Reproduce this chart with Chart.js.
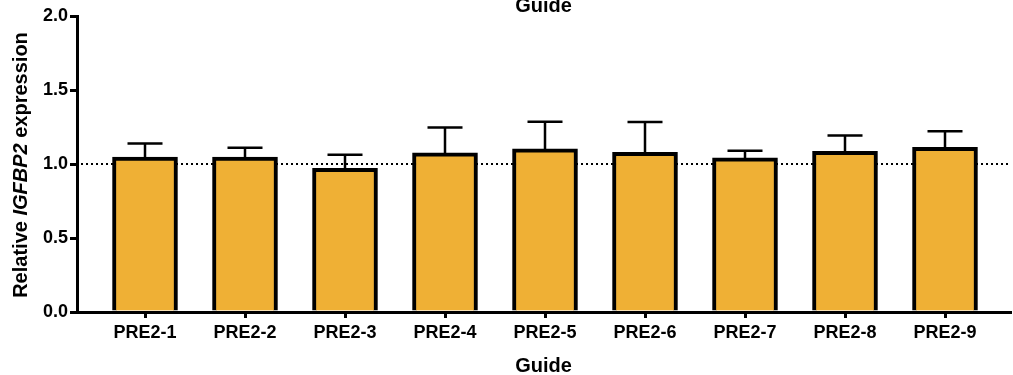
<!DOCTYPE html>
<html>
<head>
<meta charset="utf-8">
<script src="https://cdn.jsdelivr.net/npm/chart.js@4/dist/chart.umd.min.js"></script>
<style>
  html, body { margin: 0; padding: 0; background: #fff; }
  #wrap { width: 1013px; height: 375px; }
</style>
</head>
<body>
<div id="wrap"><canvas id="c" width="1013" height="375"></canvas></div>
<script>
// Guides and their relative IGFBP2 expression (mean and upper error)
const guides = ['PRE2-1', 'PRE2-2', 'PRE2-3', 'PRE2-4', 'PRE2-5', 'PRE2-6', 'PRE2-7', 'PRE2-8', 'PRE2-9'];
const expression = [1.047, 1.047, 0.970, 1.075, 1.102, 1.079, 1.041, 1.086, 1.113];
const errorUp = [0.091, 0.063, 0.093, 0.171, 0.183, 0.204, 0.049, 0.106, 0.108];
const yTicks = [0, 0.5, 1.0, 1.5, 2.0];
const referenceLevel = 1.0;

const font = "'Liberation Sans', Arial, Helvetica, sans-serif";

// dotted reference line and error bars, drawn under the bars
const underlay = {
  id: 'underlay',
  beforeDatasetsDraw(chart) {
    const { ctx, chartArea, scales } = chart;
    const y1 = scales.y.getPixelForValue(referenceLevel);
    ctx.save();
    ctx.strokeStyle = '#000';
    ctx.lineWidth = 2;
    ctx.setLineDash([2, 3]);
    ctx.beginPath();
    ctx.moveTo(chartArea.left + 4, y1);
    ctx.lineTo(chartArea.right, y1);
    ctx.stroke();
    ctx.setLineDash([]);
    ctx.lineWidth = 2.5;
    expression.forEach((v, i) => {
      const x = scales.x.getPixelForValue(i);
      const yb = scales.y.getPixelForValue(v);
      const yt = scales.y.getPixelForValue(v + errorUp[i]);
      ctx.beginPath();
      ctx.moveTo(x, yb);
      ctx.lineTo(x, yt);
      ctx.moveTo(x - 17.5, yt);
      ctx.lineTo(x + 17.5, yt);
      ctx.stroke();
    });
    ctx.restore();
  }
};

// top heading
const heading = {
  id: 'heading',
  afterDraw(chart) {
    const { ctx, chartArea } = chart;
    ctx.save();
    ctx.fillStyle = '#000';
    ctx.font = "bold 20px " + font;
    ctx.textAlign = 'center';
    ctx.textBaseline = 'alphabetic';
    ctx.fillText('Guide', (chartArea.left + chartArea.right) / 2, 12);
    ctx.restore();
  }
};

new Chart(document.getElementById('c'), {
  type: 'bar',
  data: {
    datasets: [{
      data: expression.map((v, i) => ({ x: i, y: v })),
      backgroundColor: '#EFB035',
      borderColor: '#000',
      borderWidth: 4,
      borderSkipped: 'start',
      barThickness: 65
    }]
  },
  options: {
    responsive: false,
    animation: false,
    devicePixelRatio: 1,
    layout: { padding: { top: 16, right: 3, left: 0, bottom: 0 } },
    plugins: { legend: { display: false }, tooltip: { enabled: false } },
    scales: {
      x: {
        type: 'linear',
        min: -0.68,
        max: 8.65,
        offset: false,
        afterFit(scale) { scale.height = 63; },
        border: { display: true, color: '#000', width: 3 },
        grid: { offset: false, drawOnChartArea: false, drawTicks: true, tickLength: 6, color: '#000', lineWidth: 3 },
        ticks: {
          stepSize: 1,
          includeBounds: false,
          autoSkip: false,
          maxRotation: 0,
          padding: 4,
          color: '#000',
          font: { family: font, size: 18, weight: 'bold' },
          callback: (v) => guides[v] ?? ''
        },
        title: {
          display: true,
          text: 'Guide',
          color: '#000',
          font: { family: font, size: 20, weight: 'bold' },
          padding: { top: 6, bottom: -3 }
        }
      },
      y: {
        min: 0,
        max: 2,
        afterFit(scale) { scale.width = 77; },
        afterBuildTicks(scale) { scale.ticks = yTicks.map(v => ({ value: v })); },
        border: { display: true, color: '#000', width: 3 },
        grid: { drawOnChartArea: false, drawTicks: true, tickLength: 7, color: '#000', lineWidth: 3 },
        ticks: {
          padding: 2,
          color: '#000',
          font: { family: font, size: 18, weight: 'bold' },
          callback: (v) => Number(v).toFixed(1)
        },
        title: { display: false }
      }
    }
  },
  plugins: [underlay, heading,
    {
      // rotated y-axis title with italic gene name
      id: 'yTitle',
      afterDraw(chart) {
        const { ctx, chartArea } = chart;
        const parts = [
          { t: 'Relative ', f: "bold 20px " + font },
          { t: 'IGFBP2', f: "italic bold 20px " + font },
          { t: ' expression', f: "bold 20px " + font }
        ];
        ctx.save();
        let total = 0;
        parts.forEach(p => { ctx.font = p.f; p.w = ctx.measureText(p.t).width; total += p.w; });
        const cy = (chartArea.top + chartArea.bottom) / 2 + 1;
        ctx.translate(27, cy);
        ctx.rotate(-Math.PI / 2);
        ctx.fillStyle = '#000';
        ctx.textBaseline = 'alphabetic';
        ctx.textAlign = 'left';
        let x = -total / 2;
        parts.forEach(p => { ctx.font = p.f; ctx.fillText(p.t, x, 0); x += p.w; });
        ctx.restore();
      }
    }
  ]
});
</script>
</body>
</html>
